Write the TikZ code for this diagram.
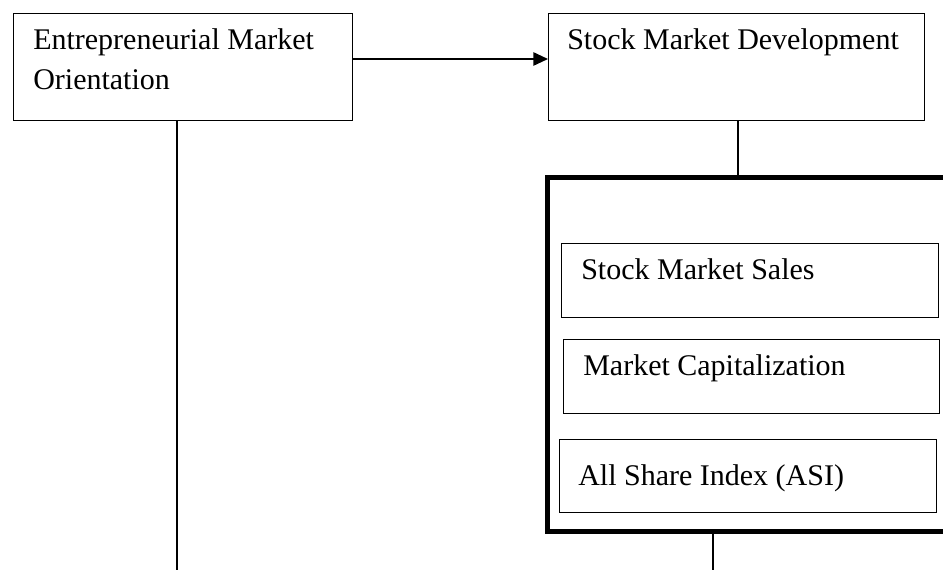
\documentclass[tikz,border=0pt]{standalone}
\usepackage{fontspec}
\setmainfont{Liberation Serif}
\usetikzlibrary{arrows.meta,positioning,calc}

\begin{document}
\begin{tikzpicture}[x=0.75pt,y=-0.75pt,
  bx/.style={draw,line width=0.8pt,anchor=north west,inner sep=0pt},
  grp/.style={draw,line width=3.4pt,anchor=north west,inner sep=0pt},
  txt/.style={anchor=base west,inner sep=0pt,align=left,font=\fontsize{22.5}{30}\selectfont},
  ln/.style={line width=1.3pt},
  arr/.style={ln,-{Triangle[length=11pt,width=10pt]}}]
\clip (0,0) rectangle (943,570);
\node[bx,minimum width=339*0.75pt,minimum height=107*0.75pt] (emo) at (13,13) {};
\node[bx,minimum width=376*0.75pt,minimum height=107*0.75pt] (smd) at (548,13) {};
\node[grp,minimum width=440*0.75pt,minimum height=354*0.75pt] (ind) at (545,175) {};
\node[bx,minimum width=377*0.75pt,minimum height=74*0.75pt] (sales) at (561,243) {};
\node[bx,minimum width=376*0.75pt,minimum height=74*0.75pt] (cap) at (563,339) {};
\node[bx,minimum width=377*0.75pt,minimum height=73*0.75pt] (asi) at (559,439) {};
\node[txt] (emot) at (33,90) {Entrepreneurial Market\\Orientation};
\node[txt] (smdt) at (567,50) {Stock Market Development};
\node[txt] (salest) at (581,280) {Stock Market Sales};
\node[txt] (capt) at (583,376) {Market Capitalization};
\node[txt] (asit) at (578,485) {All Share Index (ASI)};
\coordinate (emoend) at (177,570);
\coordinate (indend) at (713,570);
\draw[arr] (emo.east |- 0,59) -- (smd.west |- 0,59);
\draw[ln] (emo.south -| emoend) -- (emoend);
\draw[ln] (smd.south -| 738,0) -- (ind.north -| 738,0);
\draw[ln] (ind.south -| indend) -- (indend);
\end{tikzpicture}
\end{document}
